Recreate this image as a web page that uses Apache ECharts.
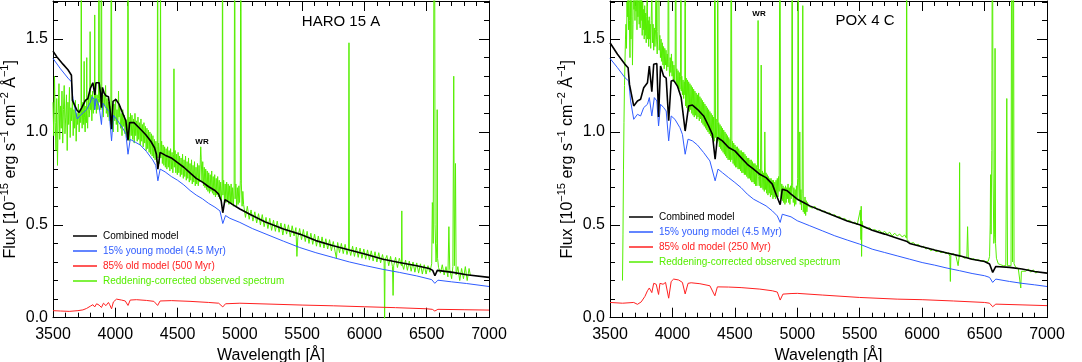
<!DOCTYPE html>
<html>
<head>
<meta charset="utf-8">
<script src="https://cdn.jsdelivr.net/npm/echarts@6.0.0/dist/echarts.min.js"></script>
<style>
  html, body { margin: 0; padding: 0; background: #fff; }
  #chart { width: 1082px; height: 362px; }
</style>
</head>
<body>
<div id="chart"></div>
<script>
// wavelength [A] / flux [1e-15 erg/s/cm2/A] pairs

// ---- HARO 15 A ----
const haroCombined = [[3500,1.435],[3530,1.405],[3580,1.365],[3620,1.335],[3648,1.305],[3656,1.17],[3690,1.12],[3710,1.105],[3730,1.13],[3745,1.12],[3760,1.17],[3780,1.18],[3800,1.235],[3820,1.265],[3830,1.255],[3836,1.20],[3845,1.265],[3870,1.265],[3883,1.20],[3889,1.13],[3897,1.24],[3910,1.21],[3925,1.195],[3945,1.19],[3958,1.12],[3970,1.015],[3982,1.165],[4005,1.175],[4030,1.15],[4060,1.10],[4085,1.06],[4102,0.955],[4115,1.05],[4150,1.05],[4195,1.02],[4245,0.985],[4285,0.95],[4315,0.915],[4330,0.88],[4342,0.80],[4360,0.89],[4400,0.875],[4450,0.86],[4500,0.835],[4550,0.81],[4600,0.78],[4650,0.75],[4700,0.73],[4750,0.705],[4800,0.685],[4830,0.665],[4850,0.63],[4863,0.565],[4880,0.635],[4900,0.628],[4940,0.61],[5000,0.585],[5080,0.557],[5200,0.517],[5350,0.477],[5480,0.45],[5610,0.415],[5750,0.387],[5880,0.364],[6010,0.342],[6150,0.315],[6280,0.297],[6420,0.28],[6520,0.265],[6548,0.255],[6566,0.226],[6585,0.255],[6710,0.244],[6820,0.231],[7000,0.217]];

const haroYoung = [[3500,1.396],[3560,1.34],[3620,1.29],[3648,1.27],[3660,1.18],[3695,1.07],[3720,1.09],[3745,1.105],[3770,1.12],[3800,1.16],[3815,1.19],[3830,1.175],[3836,1.12],[3845,1.18],[3870,1.14],[3889,1.04],[3900,1.155],[3925,1.13],[3950,1.11],[3970,0.952],[3985,1.09],[4020,1.06],[4060,1.02],[4085,0.99],[4102,0.88],[4120,0.96],[4160,0.945],[4200,0.93],[4250,0.895],[4300,0.85],[4325,0.82],[4342,0.737],[4360,0.80],[4400,0.785],[4450,0.76],[4500,0.74],[4550,0.715],[4600,0.685],[4650,0.66],[4700,0.64],[4750,0.615],[4800,0.595],[4840,0.575],[4863,0.507],[4885,0.55],[4920,0.535],[5000,0.513],[5100,0.48],[5210,0.45],[5350,0.412],[5480,0.378],[5610,0.35],[5750,0.324],[5880,0.30],[6010,0.28],[6150,0.26],[6280,0.244],[6420,0.225],[6540,0.205],[6565,0.185],[6590,0.202],[6700,0.193],[6820,0.184],[7000,0.168]];

const haroOld = [[3500,0.038],[3560,0.036],[3630,0.034],[3700,0.038],[3740,0.042],[3770,0.05],[3800,0.062],[3820,0.07],[3835,0.058],[3850,0.075],[3870,0.068],[3889,0.055],[3905,0.078],[3925,0.065],[3945,0.082],[3955,0.07],[3970,0.048],[3985,0.085],[4010,0.10],[4050,0.095],[4080,0.09],[4102,0.066],[4120,0.095],[4170,0.097],[4250,0.093],[4310,0.088],[4340,0.066],[4360,0.09],[4450,0.092],[4600,0.088],[4750,0.082],[4830,0.078],[4863,0.058],[4885,0.075],[5000,0.078],[5250,0.073],[5500,0.068],[5750,0.064],[6000,0.059],[6250,0.054],[6500,0.048],[6545,0.045],[6565,0.036],[6590,0.045],[6800,0.043],[7000,0.041]];

const haroObs = [[3500,1.16],[3506,0.98],[3512,1.30],[3518,1.05],[3524,0.90],[3530,1.18],[3536,0.82],[3542,1.10],[3548,1.26],[3554,0.96],[3560,1.14],[3566,1.02],[3572,1.22],[3578,0.94],[3584,1.12],[3590,1.25],[3596,0.99],[3602,1.08],[3608,1.20],[3614,0.90],[3620,1.16],[3626,1.04],[3632,1.24],[3638,0.97],[3644,1.13],[3650,1.06],[3656,1.19],[3662,0.98],[3668,1.12],[3674,1.02],[3680,1.17],[3686,0.95],[3692,1.10],[3698,1.04],[3704,1.15],[3710,1.00],[3716,1.12],[3722,1.05],[3725,1.10],[3727,2.6],[3729,1.12],[3734,1.02],[3740,1.16],[3746,1.04],[3750,1.38],[3753,1.08],[3758,1.00],[3764,1.14],[3769,1.05],[3771,1.40],[3773,1.10],[3778,1.02],[3784,1.18],[3790,1.08],[3795,1.12],[3798,1.54],[3801,1.12],[3806,1.20],[3812,1.06],[3818,1.22],[3824,1.10],[3830,1.18],[3833,1.12],[3835,1.63],[3837,1.14],[3842,1.24],[3848,1.10],[3854,1.20],[3860,1.12],[3866,1.18],[3869,2.6],[3872,1.16],[3878,1.24],[3884,1.12],[3889,2.6],[3892,1.14],[3898,1.22],[3904,1.08],[3910,1.20],[3916,1.14],[3922,1.25],[3928,1.10],[3934,1.18],[3940,1.08],[3946,1.16],[3952,1.06],[3958,1.14],[3964,1.04],[3968,2.6],[3972,1.02],[3978,1.12],[3984,1.00],[3990,1.15],[3996,1.06],[4002,1.18],[4008,1.04],[4014,1.12],[4020,1.00],[4026,1.22],[4030,1.08],[4036,1.14],[4042,1.02],[4048,1.10],[4054,0.98],[4060,1.12],[4066,1.03],[4072,1.09],[4078,0.99],[4084,1.07],[4090,0.97],[4096,1.04],[4099,0.98],[4102,2.6],[4105,0.96],[4110,1.08],[4116,0.95],[4122,1.10],[4128,0.98],[4134,1.09],[4140,0.96],[4146,1.07],[4152,0.94],[4158,1.10],[4164,0.98],[4170,1.06],[4176,0.95],[4182,1.08],[4188,0.96],[4194,1.05],[4200,0.93],[4206,1.07],[4212,0.95],[4218,1.04],[4224,0.92],[4230,1.05],[4236,0.94],[4242,1.03],[4248,0.90],[4254,1.02],[4260,0.91],[4266,1.01],[4272,0.89],[4278,1.00],[4284,0.88],[4290,0.99],[4296,0.87],[4302,0.98],[4308,0.86],[4314,0.96],[4320,0.85],[4326,0.95],[4332,0.84],[4337,0.92],[4340,2.6],[4343,0.86],[4348,0.94],[4354,0.83],[4360,0.93],[4363,2.0],[4366,0.86],[4372,0.95],[4378,0.83],[4384,0.93],[4390,0.82],[4396,0.92],[4402,0.81],[4408,0.91],[4414,0.80],[4420,0.92],[4426,0.81],[4432,0.90],[4438,0.79],[4444,0.91],[4450,0.80],[4456,0.89],[4462,0.78],[4468,0.88],[4471,1.34],[4474,0.81],[4480,0.90],[4486,0.78],[4492,0.88],[4498,0.77],[4504,0.89],[4510,0.78],[4516,0.87],[4522,0.76],[4528,0.86],[4534,0.77],[4540,0.88],[4546,0.75],[4552,0.85],[4558,0.76],[4564,0.87],[4570,0.74],[4576,0.84],[4582,0.75],[4588,0.86],[4594,0.73],[4600,0.83],[4606,0.74],[4612,0.85],[4618,0.72],[4624,0.82],[4630,0.73],[4636,0.84],[4642,0.71],[4648,0.81],[4654,0.72],[4660,0.83],[4666,0.71],[4672,0.82],[4678,0.73],[4683,0.86],[4686,0.92],[4690,0.85],[4696,0.73],[4702,0.84],[4708,0.71],[4714,0.81],[4720,0.70],[4726,0.80],[4732,0.69],[4738,0.79],[4744,0.68],[4750,0.78],[4756,0.67],[4762,0.77],[4768,0.68],[4774,0.79],[4780,0.67],[4786,0.76],[4792,0.66],[4798,0.77],[4804,0.65],[4810,0.75],[4816,0.66],[4822,0.76],[4828,0.65],[4834,0.74],[4840,0.64],[4846,0.73],[4852,0.63],[4858,0.72],[4861,2.6],[4864,0.66],[4870,0.74],[4876,0.63],[4882,0.72],[4888,0.62],[4894,0.73],[4900,0.63],[4906,0.72],[4912,0.61],[4918,0.71],[4924,0.62],[4930,0.72],[4936,0.61],[4942,0.70],[4948,0.60],[4954,0.71],[4959,2.6],[4962,0.64],[4968,0.72],[4974,0.60],[4980,0.70],[4986,0.61],[4992,0.71],[4998,0.62],[5004,0.74],[5007,2.6],[5012,0.72],[5018,0.60],[5024,0.68],[5030,0.61],[5045,0.54],[5060,0.60],[5075,0.53],[5090,0.58],[5105,0.52],[5120,0.57],[5135,0.51],[5150,0.56],[5165,0.50],[5180,0.555],[5195,0.49],[5210,0.54],[5225,0.48],[5240,0.535],[5255,0.47],[5270,0.525],[5285,0.465],[5300,0.52],[5315,0.46],[5330,0.51],[5345,0.445],[5360,0.505],[5375,0.45],[5390,0.50],[5405,0.435],[5420,0.495],[5435,0.44],[5450,0.485],[5458,0.33],[5465,0.43],[5480,0.48],[5495,0.42],[5510,0.475],[5525,0.41],[5540,0.465],[5555,0.40],[5570,0.455],[5585,0.395],[5600,0.45],[5615,0.385],[5630,0.44],[5645,0.38],[5660,0.435],[5675,0.375],[5690,0.425],[5705,0.37],[5720,0.42],[5735,0.36],[5750,0.41],[5765,0.355],[5775,0.32],[5785,0.405],[5800,0.35],[5815,0.40],[5830,0.345],[5845,0.395],[5860,0.34],[5873,0.375],[5876,1.48],[5879,0.37],[5890,0.335],[5905,0.385],[5920,0.33],[5935,0.38],[5950,0.325],[5965,0.375],[5980,0.32],[5995,0.37],[6010,0.315],[6025,0.365],[6040,0.31],[6055,0.36],[6070,0.305],[6085,0.355],[6100,0.30],[6115,0.35],[6130,0.295],[6145,0.34],[6158,0.30],[6162,-0.05],[6166,0.31],[6180,0.335],[6195,0.28],[6210,0.33],[6225,0.275],[6230,0.12],[6235,0.28],[6250,0.325],[6265,0.27],[6280,0.32],[6297,0.28],[6300,0.575],[6303,0.29],[6315,0.26],[6330,0.31],[6345,0.255],[6360,0.305],[6375,0.25],[6390,0.30],[6405,0.245],[6420,0.295],[6435,0.24],[6450,0.29],[6465,0.235],[6480,0.285],[6495,0.235],[6510,0.28],[6525,0.245],[6540,0.29],[6545,0.62],[6548,0.60],[6552,0.40],[6558,1.9],[6563,2.6],[6567,0.5],[6575,0.30],[6581,0.40],[6584,1.12],[6587,0.32],[6595,0.27],[6610,0.24],[6625,0.285],[6640,0.23],[6655,0.275],[6670,0.22],[6678,0.49],[6685,0.26],[6700,0.21],[6710,0.275],[6717,1.30],[6722,0.28],[6731,0.83],[6736,0.23],[6750,0.275],[6765,0.20],[6780,0.265],[6795,0.21],[6810,0.275],[6825,0.20],[6840,0.265],[6850,0.23]];

// ---- POX 4 C ----
const poxCombined = [[3500,1.48],[3560,1.418],[3620,1.364],[3645,1.346],[3656,1.256],[3690,1.14],[3720,1.167],[3745,1.176],[3770,1.238],[3800,1.265],[3815,1.355],[3835,1.217],[3850,1.364],[3875,1.369],[3889,1.08],[3905,1.355],[3930,1.30],[3950,1.29],[3970,1.06],[3990,1.274],[4010,1.278],[4040,1.247],[4070,1.185],[4102,1.005],[4130,1.14],[4160,1.145],[4200,1.122],[4250,1.086],[4290,1.032],[4320,0.987],[4342,0.853],[4360,0.97],[4400,0.952],[4450,0.916],[4500,0.898],[4550,0.862],[4600,0.826],[4650,0.80],[4700,0.772],[4750,0.754],[4800,0.719],[4830,0.665],[4863,0.608],[4880,0.692],[4920,0.683],[4950,0.665],[5000,0.638],[5050,0.62],[5100,0.602],[5200,0.575],[5300,0.548],[5400,0.521],[5500,0.50],[5600,0.471],[5700,0.45],[5800,0.428],[5880,0.41],[5900,0.40],[6000,0.382],[6100,0.364],[6200,0.348],[6300,0.333],[6400,0.315],[6500,0.303],[6540,0.289],[6565,0.244],[6590,0.276],[6700,0.271],[6800,0.262],[6900,0.249],[7000,0.24]];

const poxYoung = [[3500,1.396],[3560,1.346],[3620,1.292],[3650,1.274],[3665,1.167],[3690,1.068],[3720,1.095],[3745,1.086],[3770,1.131],[3800,1.149],[3815,1.185],[3835,1.086],[3855,1.185],[3875,1.167],[3889,1.032],[3905,1.149],[3930,1.131],[3950,1.113],[3970,0.952],[3990,1.086],[4020,1.068],[4060,1.023],[4080,0.987],[4102,0.88],[4125,0.961],[4160,0.952],[4200,0.93],[4250,0.889],[4300,0.844],[4342,0.737],[4365,0.80],[4400,0.781],[4450,0.754],[4500,0.728],[4550,0.70],[4600,0.665],[4650,0.638],[4700,0.62],[4750,0.602],[4800,0.575],[4840,0.548],[4863,0.513],[4880,0.557],[4950,0.543],[5000,0.522],[5100,0.495],[5200,0.468],[5300,0.441],[5400,0.418],[5500,0.396],[5600,0.369],[5700,0.351],[5800,0.333],[5900,0.315],[6000,0.297],[6100,0.283],[6200,0.267],[6300,0.253],[6400,0.238],[6500,0.226],[6540,0.217],[6565,0.19],[6590,0.208],[6700,0.195],[6800,0.185],[6900,0.177],[7000,0.168]];

const poxOld = [[3500,0.082],[3600,0.078],[3690,0.082],[3720,0.072],[3750,0.085],[3780,0.115],[3800,0.145],[3815,0.16],[3835,0.135],[3850,0.185],[3870,0.18],[3889,0.125],[3900,0.185],[3925,0.18],[3945,0.19],[3970,0.105],[3990,0.195],[4010,0.208],[4050,0.203],[4080,0.19],[4102,0.128],[4125,0.185],[4150,0.188],[4220,0.183],[4300,0.172],[4340,0.118],[4360,0.166],[4450,0.165],[4550,0.162],[4700,0.154],[4800,0.145],[4840,0.138],[4863,0.095],[4885,0.127],[4950,0.13],[5000,0.131],[5200,0.122],[5500,0.109],[5800,0.10],[6000,0.097],[6250,0.09],[6500,0.082],[6540,0.078],[6565,0.059],[6590,0.073],[6800,0.069],[7000,0.065]];

const poxObs = [[3600,0.20],[3604,0.45],[3608,0.80],[3612,1.05],[3616,1.25],[3620,1.38],[3624,1.50],[3628,1.58],[3632,1.45],[3636,1.70],[3640,1.62],[3644,1.85],[3648,1.55],[3652,1.78],[3656,1.60],[3660,1.40],[3664,1.72],[3668,1.50],[3672,1.85],[3676,1.62],[3680,1.36],[3684,1.58],[3688,1.90],[3692,1.66],[3696,1.82],[3700,1.60],[3704,1.88],[3708,1.65],[3712,1.78],[3716,1.55],[3720,1.85],[3724,1.62],[3727,2.6],[3730,1.70],[3734,1.58],[3738,1.82],[3742,1.56],[3746,1.75],[3750,1.60],[3754,1.72],[3758,1.52],[3762,1.70],[3766,1.55],[3770,1.66],[3774,1.50],[3778,1.68],[3782,1.52],[3786,1.64],[3790,1.48],[3794,1.62],[3798,1.80],[3802,1.50],[3806,1.60],[3810,1.46],[3814,1.62],[3818,1.50],[3822,1.58],[3826,1.45],[3830,1.60],[3835,1.75],[3840,1.48],[3845,1.58],[3850,1.44],[3855,1.56],[3860,1.46],[3865,1.55],[3869,2.6],[3873,1.50],[3878,1.42],[3883,1.54],[3889,2.6],[3894,1.44],[3899,1.52],[3904,1.40],[3909,1.50],[3914,1.38],[3919,1.48],[3924,1.36],[3929,1.46],[3934,1.34],[3939,1.45],[3944,1.36],[3949,1.44],[3954,1.33],[3959,1.42],[3964,1.35],[3968,2.6],[3972,1.38],[3977,1.30],[3982,1.40],[3987,1.32],[3992,1.42],[3997,1.30],[4002,1.38],[4007,1.27],[4012,1.36],[4017,1.28],[4022,1.35],[4026,2.6],[4030,1.26],[4035,1.34],[4040,1.24],[4045,1.33],[4050,1.22],[4055,1.32],[4060,1.23],[4065,1.30],[4068,2.6],[4071,1.22],[4075,1.30],[4080,1.20],[4085,1.28],[4090,1.18],[4095,1.27],[4099,1.20],[4102,2.6],[4105,1.14],[4110,1.29],[4115,1.13],[4120,1.28],[4125,1.12],[4130,1.27],[4135,1.11],[4140,1.26],[4145,1.12],[4150,1.25],[4155,1.10],[4160,1.24],[4165,1.09],[4170,1.23],[4175,1.08],[4180,1.22],[4185,1.09],[4190,1.21],[4195,1.07],[4200,1.20],[4205,1.08],[4210,1.21],[4215,1.06],[4220,1.19],[4225,1.07],[4230,1.18],[4235,1.05],[4240,1.17],[4245,1.04],[4250,1.16],[4255,1.03],[4260,1.15],[4265,1.02],[4270,1.14],[4275,1.01],[4280,1.13],[4285,1.00],[4290,1.12],[4295,0.99],[4300,1.11],[4305,0.98],[4310,1.10],[4315,0.97],[4320,1.09],[4325,0.96],[4330,1.08],[4335,0.95],[4340,2.6],[4345,0.97],[4350,1.07],[4355,0.94],[4360,1.05],[4363,2.6],[4366,0.95],[4371,1.05],[4376,0.92],[4381,1.04],[4386,0.91],[4391,1.03],[4396,0.90],[4401,1.02],[4406,0.89],[4411,1.01],[4416,0.88],[4421,1.00],[4426,0.87],[4431,0.99],[4436,0.86],[4441,0.98],[4446,0.85],[4451,0.97],[4456,0.85],[4461,0.96],[4466,0.84],[4471,2.6],[4476,0.85],[4481,0.95],[4486,0.83],[4491,0.94],[4496,0.82],[4501,0.93],[4506,0.81],[4511,0.92],[4516,0.81],[4521,0.92],[4526,0.80],[4531,0.91],[4536,0.80],[4541,0.90],[4546,0.79],[4551,0.90],[4556,0.78],[4561,0.89],[4566,0.78],[4571,0.89],[4576,0.77],[4581,0.88],[4586,0.77],[4591,0.87],[4596,0.76],[4601,0.86],[4606,0.75],[4611,0.86],[4616,0.75],[4621,0.85],[4626,0.74],[4631,0.85],[4636,0.73],[4641,0.84],[4646,0.73],[4651,0.83],[4656,0.72],[4661,0.83],[4666,0.71],[4671,0.82],[4676,0.71],[4681,0.81],[4686,1.60],[4690,0.76],[4695,0.71],[4700,0.80],[4705,0.70],[4711,1.36],[4716,0.70],[4721,0.79],[4726,0.69],[4731,0.78],[4736,0.68],[4740,1.00],[4745,0.69],[4750,0.78],[4755,0.67],[4760,0.77],[4765,0.66],[4770,0.76],[4775,0.67],[4780,0.75],[4785,0.65],[4790,0.75],[4795,0.66],[4800,0.74],[4805,0.64],[4810,0.74],[4815,0.65],[4820,0.73],[4825,0.64],[4830,0.74],[4835,0.66],[4840,0.75],[4845,0.65],[4850,0.76],[4855,0.68],[4861,2.6],[4866,0.73],[4871,0.64],[4876,0.72],[4881,0.63],[4886,0.71],[4891,0.62],[4896,0.70],[4901,0.61],[4906,0.71],[4911,0.62],[4916,0.70],[4921,0.64],[4926,0.72],[4931,0.62],[4936,0.70],[4941,0.61],[4946,0.71],[4951,0.64],[4955,0.73],[4959,2.6],[4963,0.71],[4968,0.62],[4973,0.70],[4978,0.60],[4983,0.69],[4988,0.61],[4993,0.71],[4998,0.64],[5003,0.75],[5007,2.6],[5011,0.73],[5016,0.63],[5020,1.00],[5024,0.61],[5029,0.69],[5034,0.58],[5039,0.67],[5044,1.68],[5048,0.57],[5052,0.63],[5057,0.56],[5062,0.65],[5067,0.55],[5072,0.63],[5077,0.57],[5082,0.62],[5090,0.60],[5100,0.61],[5120,0.59],[5140,0.60],[5160,0.58],[5180,0.585],[5200,0.57],[5220,0.575],[5240,0.56],[5260,0.565],[5280,0.55],[5300,0.555],[5320,0.54],[5340,0.545],[5360,0.53],[5380,0.535],[5400,0.52],[5420,0.525],[5440,0.51],[5460,0.515],[5480,0.50],[5495,0.51],[5505,0.58],[5510,0.42],[5512,0.60],[5515,0.33],[5518,0.52],[5525,0.49],[5540,0.50],[5560,0.48],[5580,0.485],[5600,0.47],[5620,0.475],[5640,0.465],[5660,0.47],[5680,0.455],[5700,0.465],[5720,0.45],[5740,0.46],[5760,0.44],[5780,0.455],[5800,0.44],[5820,0.45],[5840,0.435],[5860,0.445],[5873,0.43],[5876,2.6],[5879,0.42],[5890,0.41],[5910,0.40],[5930,0.405],[5950,0.39],[5970,0.395],[5990,0.38],[6010,0.385],[6030,0.37],[6050,0.375],[6070,0.36],[6090,0.37],[6110,0.355],[6130,0.36],[6150,0.35],[6170,0.355],[6190,0.345],[6210,0.35],[6222,0.33],[6226,0.195],[6230,0.34],[6250,0.345],[6270,0.335],[6288,0.28],[6297,0.33],[6300,0.835],[6303,0.33],[6320,0.33],[6340,0.32],[6358,0.325],[6364,0.49],[6370,0.32],[6390,0.315],[6410,0.318],[6430,0.31],[6450,0.312],[6470,0.305],[6490,0.308],[6510,0.30],[6530,0.305],[6540,0.33],[6545,0.50],[6548,0.77],[6552,0.45],[6558,0.90],[6563,2.6],[6568,0.80],[6574,0.40],[6580,0.45],[6584,1.45],[6588,0.40],[6595,0.32],[6610,0.29],[6630,0.285],[6650,0.28],[6670,0.28],[6678,1.18],[6684,0.28],[6700,0.275],[6712,0.28],[6717,2.6],[6724,0.30],[6731,2.6],[6736,0.29],[6750,0.27],[6770,0.265],[6785,0.26],[6790,0.16],[6795,0.25],[6810,0.26],[6830,0.25],[6850,0.262],[6870,0.245],[6890,0.258],[6910,0.24],[6930,0.25]];

const xTicks = { min: 3500, max: 7000, step: 500 };
const yTicks = { min: 0, max: 1.705, step: 0.5 };

const FONT = '"Liberation Sans", Arial, Helvetica, sans-serif';
const BLACK = '#000000', BLUE = '#2f5cff', RED = '#ff2020', GREEN = '#55ee00';

const NAME_COMB = 'Combined model';
const NAME_YOUNG = '15% young model (4.5 Myr)';
const NAME_OBS = 'Reddening-corrected observed spectrum';

const myChart = echarts.init(document.getElementById('chart'));

function xAxes(g) {
  const common = {
    gridIndex: g, type: 'value', min: xTicks.min, max: xTicks.max, interval: xTicks.step,
    axisLine: { show: true, onZero: false, lineStyle: { color: BLACK, width: 1 } },
    axisTick: { show: true, inside: true, length: 10, lineStyle: { color: BLACK, width: 1 } },
    minorTick: { show: true, splitNumber: 5, length: 5, lineStyle: { color: BLACK, width: 1 } },
    splitLine: { show: false }, minorSplitLine: { show: false }
  };
  return [
    Object.assign({}, common, {
      position: 'bottom',
      axisLabel: { color: BLACK, fontSize: 16, fontFamily: FONT, margin: 9, formatter: v => String(v) },
      name: 'Wavelength [Å]', nameLocation: 'middle', nameGap: 24,
      nameTextStyle: { color: BLACK, fontSize: 16, fontFamily: FONT }
    }),
    Object.assign({}, common, { position: 'top', axisLabel: { show: false } })
  ];
}

function yAxes(g) {
  const common = {
    gridIndex: g, type: 'value', min: yTicks.min, max: yTicks.max,
    axisLine: { show: true, onZero: false, lineStyle: { color: BLACK, width: 1 } },
    splitLine: { show: false }
  };
  const major = Object.assign({}, common, {
    interval: yTicks.step,
    axisTick: { show: true, inside: true, length: 10, lineStyle: { color: BLACK, width: 1 } }
  });
  // minor ticks every 0.1 (own axis, so the part-interval at the top is not split)
  const minor = Object.assign({}, common, {
    interval: 0.1,
    axisLine: { show: false },
    axisTick: { show: true, inside: true, length: 5, lineStyle: { color: BLACK, width: 1 } },
    axisLabel: { show: false }
  });
  return [
    Object.assign({}, major, {
      position: 'left',
      axisLabel: { color: BLACK, fontSize: 16, fontFamily: FONT, margin: 5, showMaxLabel: false,
        formatter: v => v.toFixed(1) },
      name: '{n|Flux [10}{s|−15}{n| erg s}{s|−1}{n| cm}{s|−2}{n| Å}{s|−1}{n|]}',
      nameLocation: 'middle', nameRotate: 90, nameGap: 34,
      nameTextStyle: {
        color: BLACK, fontFamily: FONT,
        rich: {
          n: { fontSize: 16, fontFamily: FONT, color: BLACK, lineHeight: 20, verticalAlign: 'bottom' },
          s: { fontSize: 11, fontFamily: FONT, color: BLACK, verticalAlign: 'top' }
        }
      }
    }),
    Object.assign({}, minor, { position: 'left' }),
    Object.assign({}, major, { position: 'right', axisLabel: { show: false } }),
    Object.assign({}, minor, { position: 'right' })
  ];
}

function line(name, data, color, width, g, z) {
  return {
    type: 'line', name, data, color,
    xAxisIndex: g * 2, yAxisIndex: g * 4,
    showSymbol: false, symbol: 'none', clip: true, silent: true, z,
    lineStyle: { color, width }
  };
}

function legendFor(left, top, oldName) {
  return {
    orient: 'vertical', left, top, icon: 'rect', itemWidth: 24, itemHeight: 1.5, itemGap: 3,
    selectedMode: false, padding: 0,
    textStyle: { fontSize: 10, fontFamily: FONT, lineHeight: 12, padding: [0, 0, 0, 1] },
    data: [
      { name: NAME_COMB, textStyle: { color: BLACK } },
      { name: NAME_YOUNG, textStyle: { color: BLUE } },
      { name: oldName, textStyle: { color: RED } },
      { name: NAME_OBS, textStyle: { color: GREEN } }
    ]
  };
}

const option = {
  animation: false,
  backgroundColor: '#fff',
  grid: [
    { left: 53, top: 1, width: 436, height: 316.7, outerBoundsMode: 'none' },
    { left: 610, top: 1, width: 437, height: 316.7, outerBoundsMode: 'none' }
  ],
  xAxis: xAxes(0).concat(xAxes(1)),
  yAxis: yAxes(0).concat(yAxes(1)),
  legend: [
    legendFor(73, 230, '85% old model (500 Myr)'),
    legendFor(629, 211, '85% old model (250 Myr)')
  ],
  graphic: [
    { type: 'text', x: 341, y: 22, style: { text: 'HARO 15 A', font: '15px ' + FONT, fill: BLACK, align: 'center', verticalAlign: 'middle' } },
    { type: 'text', x: 865, y: 21, style: { text: 'POX 4 C', font: '15px ' + FONT, fill: BLACK, align: 'center', verticalAlign: 'middle' } },
    { type: 'text', x: 202, y: 142, style: { text: 'WR', font: 'bold 8px ' + FONT, fill: BLACK, align: 'center', verticalAlign: 'middle' } },
    { type: 'text', x: 759, y: 14, style: { text: 'WR', font: 'bold 8px ' + FONT, fill: BLACK, align: 'center', verticalAlign: 'middle' } }
  ],
  series: [
    line(NAME_OBS, haroObs, GREEN, 1, 0, 2),
    line('85% old model (500 Myr)', haroOld, RED, 1, 0, 3),
    line(NAME_YOUNG, haroYoung, BLUE, 1, 0, 4),
    line(NAME_COMB, haroCombined, BLACK, 1.6, 0, 5),
    line(NAME_OBS, poxObs, GREEN, 1, 1, 2),
    line('85% old model (250 Myr)', poxOld, RED, 1, 1, 3),
    line(NAME_YOUNG, poxYoung, BLUE, 1, 1, 4),
    line(NAME_COMB, poxCombined, BLACK, 1.6, 1, 5)
  ]
};

myChart.setOption(option);
</script>
</body>
</html>
